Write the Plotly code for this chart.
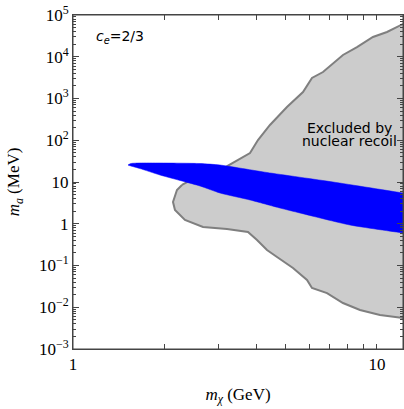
import plotly.graph_objects as go
import numpy as np

# Excluded region (nuclear recoil): upper boundary, left to right
excl_upper_x = [2.283, 2.52, 2.823, 2.977, 3.822, 4.06, 4.446, 5.057, 5.71, 6.112, 6.644, 7.73, 8.596, 9.70, 10.79, 12.18, 13.0]
excl_upper_y = [8.48, 12.5, 16.9, 17.4, 49.5, 101, 232, 625, 1432, 3100, 4310, 11020, 17100, 29700, 39200, 60900, 77100]
# lower boundary, right to left (closing through the left bulge)
excl_lower_x = [13.0, 12.18, 10.23, 8.794, 7.73, 6.85, 6.112, 5.886, 5.293, 4.69, 4.347, 4.031, 3.764, 3.211, 2.677, 2.335, 2.165, 2.133, 2.198, 2.283]
excl_lower_y = [0.0052, 0.00553, 0.00652, 0.00859, 0.01264, 0.0219, 0.0289, 0.045, 0.0871, 0.160, 0.235, 0.408, 0.634, 0.748, 0.836, 1.23, 2.13, 3.32, 6.43, 8.48]

# Blue band: top edge left to right, bottom edge right to left
band_top_x = [1.517, 1.551, 1.661, 1.933, 2.617, 3.045, 4.347, 7.168, 12.18, 13.0]
band_top_y = [25.5, 27.7, 28.5, 28.5, 27.7, 25.5, 16.9, 10.0, 5.45, 5.05]
band_bot_x = [13.0, 12.18, 8.152, 5.58, 4.797, 3.822, 3.045, 2.617, 1.933, 1.661, 1.551, 1.517]
band_bot_y = [0.558, 0.600, 0.933, 1.81, 2.38, 3.71, 5.45, 8.02, 14.7, 21.0, 24.2, 25.5]

x_major = [1, 10]
x_major_labels = ["1", "10"]
x_minor = [2, 3, 4, 5, 6, 7, 8, 9]
y_major = [1e-3, 1e-2, 1e-1, 1, 10, 1e2, 1e3, 1e4, 1e5]
y_major_labels = ["10<sup>\u22123</sup>", "10<sup>\u22122</sup>", "10<sup>\u22121</sup>", "1", "10",
                  "10<sup>2</sup>", "10<sup>3</sup>", "10<sup>4</sup>", "10<sup>5</sup>"]
y_minor = [m * d for d in [1e-3, 1e-2, 1e-1, 1, 10, 1e2, 1e3, 1e4] for m in range(2, 10)]

x_range = [0, np.log10(12.18)]
y_range = [-3, 5]

fig = go.Figure()
fig.add_trace(go.Scatter(
    x=excl_upper_x + excl_lower_x, y=excl_upper_y + excl_lower_y,
    mode="lines", fill="toself", fillcolor="#cccccc",
    line=dict(color="#7f7f7f", width=2), hoverinfo="skip", showlegend=False))
fig.add_trace(go.Scatter(
    x=band_top_x + band_bot_x, y=band_top_y + band_bot_y,
    mode="lines", fill="toself", fillcolor="#0000ff",
    line=dict(color="#0000ff", width=0.5, shape="spline", smoothing=0.6),
    hoverinfo="skip", showlegend=False))
# invisible trace so the top/right mirror axes get drawn
fig.add_trace(go.Scatter(x=[x_major[0]], y=[y_major[0]], xaxis="x2", yaxis="y2", mode="markers",
                         marker=dict(size=1, opacity=0), hoverinfo="skip", showlegend=False))

ann_font = dict(family="DejaVu Sans", size=14, color="black")
fig.add_annotation(x=0.065, y=0.935, xref="paper", yref="paper", xanchor="left", yanchor="middle",
                   text="<i>c<sub>e</sub></i>=2/3", showarrow=False, font=ann_font)
fig.add_annotation(x=0.838, y=0.662, xref="paper", yref="paper", xanchor="center", yanchor="middle",
                   text="Excluded by", showarrow=False, font=ann_font)
fig.add_annotation(x=0.838, y=0.623, xref="paper", yref="paper", xanchor="center", yanchor="middle",
                   text="nuclear recoil", showarrow=False, font=ann_font)

LC = "#444444"
# plot frame
fig.add_shape(type="rect", xref="paper", yref="paper", x0=0, x1=1, y0=0, y1=1,
              line=dict(color=LC, width=1), fillcolor="rgba(0,0,0,0)", layer="above")

tick_font = dict(family="Liberation Serif", size=17, color="black")
title_font = dict(family="Liberation Serif", size=17, color="black")
common = dict(showgrid=False, zeroline=False, showline=True, linecolor=LC, linewidth=1,
              ticks="inside", tickcolor=LC, automargin=False, tickmode="array")

x_axis = dict(type="log", range=x_range, tickvals=x_major, ticklen=5,
              minor=dict(tickmode="array", tickvals=x_minor, ticks="inside", ticklen=5,
                         tickcolor=LC, showgrid=False), **common)
y_axis = dict(type="log", range=y_range, tickvals=y_major, ticklen=6,
              minor=dict(tickmode="array", tickvals=y_minor, ticks="inside", ticklen=3,
                         tickcolor=LC, showgrid=False), **common)

fig.update_layout(
    xaxis=dict(ticktext=x_major_labels, tickfont=tick_font,
               title=dict(text="<i>m</i><sub><i>\u03c7</i></sub> (GeV)", standoff=14, font=title_font),
               **x_axis),
    yaxis=dict(ticktext=y_major_labels, tickfont=tick_font,
               title=dict(text="<i>m</i><sub><i>a</i></sub> (MeV)", standoff=14, font=title_font),
               **y_axis),
    xaxis2=dict(overlaying="x", side="top", anchor="y2", showticklabels=False, **x_axis),
    yaxis2=dict(overlaying="y", side="right", anchor="x2", showticklabels=False, **y_axis),
    width=404, height=409, margin=dict(l=73, r=1, t=15, b=60),
    plot_bgcolor="white", paper_bgcolor="white")

fig.write_html("out.html", config={"displayModeBar": False, "staticPlot": True},
               post_script="document.body.style.margin='0';document.body.style.padding='0';")
